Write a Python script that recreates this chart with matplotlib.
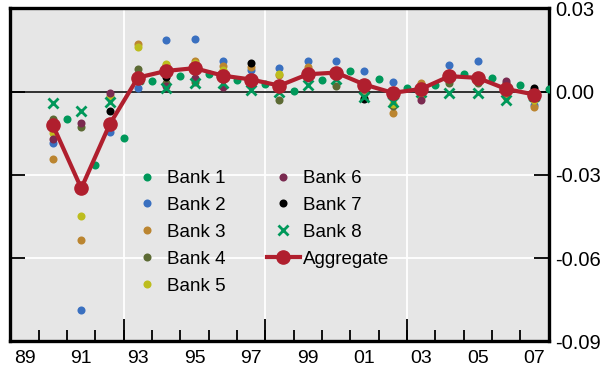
import matplotlib
matplotlib.use('Agg')
import matplotlib.pyplot as plt
import numpy as np

plt.rcParams['font.family'] = ['Liberation Sans', 'DejaVu Sans']

# Years of the bank observations (plotted mid-year)
years = np.arange(1990, 2008)

# Bank 1 is reported at year end, so it sits on the year boundaries
bank1 = [-0.0099, -0.0264, -0.0165, 0.0038, 0.0057, 0.0063, 0.0041, 0.0029, 0.0002,
         0.0041, 0.0075, 0.0045, 0.0012, 0.0023, 0.0063, 0.0050, 0.0023, 0.0009]
bank2 = [-0.0186, -0.0786, -0.0145, 0.0015, 0.0185, 0.0191, 0.0110, 0.0077, 0.0086,
         0.0110, 0.0111, 0.0074, 0.0035, -0.0006, 0.0098, 0.0110, 0.0012, -0.0046]
bank3 = [-0.0244, -0.0534, -0.0015, 0.0173, 0.0095, 0.0110, 0.0092, 0.0089, 0.0059,
         0.0089, 0.0065, 0.0005, -0.0078, 0.0032, 0.0055, 0.0050, -0.0019, -0.0055]
bank4 = [-0.0099, -0.0127, -0.0115, 0.0081, 0.0033, 0.0035, 0.0060, 0.0045, -0.0031,
         0.0060, 0.0021, -0.0022, -0.0052, 0.0005, 0.0030, 0.0030, 0.0030, 0.0008]
bank5 = [-0.0150, -0.0448, -0.0022, 0.0161, 0.0101, 0.0103, 0.0080, 0.0050, 0.0065,
         0.0070, 0.0070, 0.0020, -0.0045, -0.0018, 0.0060, 0.0050, 0.0005, -0.0031]
bank6 = [-0.0172, -0.0111, -0.0003, 0.0050, 0.0021, 0.0051, 0.0017, 0.0023, 0.0020,
         0.0050, 0.0060, 0.0010, -0.0010, -0.0028, 0.0050, 0.0045, 0.0038, -0.0010]
bank7 = [-0.0120, -0.0350, -0.0069, 0.0048, 0.0053, 0.0080, 0.0065, 0.0104, 0.0025,
         0.0055, 0.0065, -0.0025, -0.0005, 0.0010, 0.0065, 0.0050, 0.0010, 0.0014]
bank8 = [-0.0042, -0.0070, -0.0036, 0.0045, 0.0012, 0.0030, 0.0030, 0.0005, -0.0001,
         0.0023, 0.0047, -0.0020, -0.0037, 0.0000, -0.0004, -0.0006, -0.0028, -0.0015]
aggregate = [-0.0121, -0.0348, -0.0118, 0.0051, 0.0075, 0.0085, 0.0058, 0.0044, 0.0022,
             0.0063, 0.0069, 0.0026, -0.0004, 0.0010, 0.0056, 0.0050, 0.0010, -0.0010]

green = '#00985a'
dot_banks = [
    ('Bank 1', bank1, green),
    ('Bank 2', bank2, '#3a70c0'),
    ('Bank 3', bank3, '#bb8530'),
    ('Bank 4', bank4, '#5c6a34'),
    ('Bank 5', bank5, '#bdbd1e'),
    ('Bank 6', bank6, '#7a2a50'),
    ('Bank 7', bank7, '#000000'),
]

fig = plt.figure(figsize=(6.13, 3.72), dpi=100)
ax = fig.add_axes([0.0171, 0.0820, 0.8777, 0.8952])
ax.set_facecolor('#e6e6e6')

# white grid
for yv in [-0.03, -0.06]:
    ax.axhline(yv, color='white', lw=1.3, zorder=0)
for xv in [1993, 1998, 2003]:
    ax.axvline(xv, color='white', lw=1.3, zorder=0)
ax.axhline(0, color='black', lw=1.1, zorder=1)

for name, vals, col in dot_banks:
    xs = years + 1.0 if name == 'Bank 1' else years + 0.5
    ax.plot(xs, vals, ls='none', marker='o', ms=5.8, color=col, mec='none',
            label=name, zorder=3, clip_on=True)
ax.plot(years + 0.5, bank8, ls='none', marker='x', ms=6.5, mew=2, color=green,
        label='Bank 8', zorder=3)
ax.plot(years + 0.5, aggregate, color='#b01f2e', lw=3, marker='o', ms=9.5,
        label='Aggregate', zorder=4)

ax.set_xlim(1989, 2008)
ax.set_ylim(-0.09, 0.03)

# y axis: labels on the right, ticks inside on both sides
ax.set_yticks([-0.09, -0.06, -0.03, 0.0, 0.03])
ax.yaxis.set_major_formatter(plt.FormatStrFormatter('%.2f'))
ax.tick_params(axis='y', direction='in', length=11, width=1.3, left=True, right=True,
               labelleft=False, labelright=True, labelsize=14.5, pad=5)

# x axis: year labels mid-year, short ticks at every year boundary
ax.set_xticks(np.arange(1989, 2008, 2) + 0.5)
ax.set_xticklabels([f'{y % 100:02d}' for y in range(1989, 2008, 2)])
ax.set_xticks(np.arange(1990, 2008), minor=True)
ax.tick_params(axis='x', which='major', length=0, labelsize=14, pad=6)
ax.tick_params(axis='x', which='minor', direction='in', length=8, width=1.3)

sec = ax.secondary_xaxis('bottom')
sec.set_xticks([1993, 1998, 2003])
sec.tick_params(direction='in', length=16, width=1.3, labelbottom=False)
sec.spines['bottom'].set_visible(False)

for s in ax.spines.values():
    s.set_linewidth(2.4)
    s.set_color('black')

leg = ax.legend(ncol=2, loc='upper left', bbox_to_anchor=(0.2227, 0.515),
                frameon=False, fontsize=13.5, handlelength=1.75, handletextpad=0.2,
                labelspacing=0.52, columnspacing=2.2, borderpad=0, borderaxespad=0)

fig.savefig('out.png', dpi=100)
